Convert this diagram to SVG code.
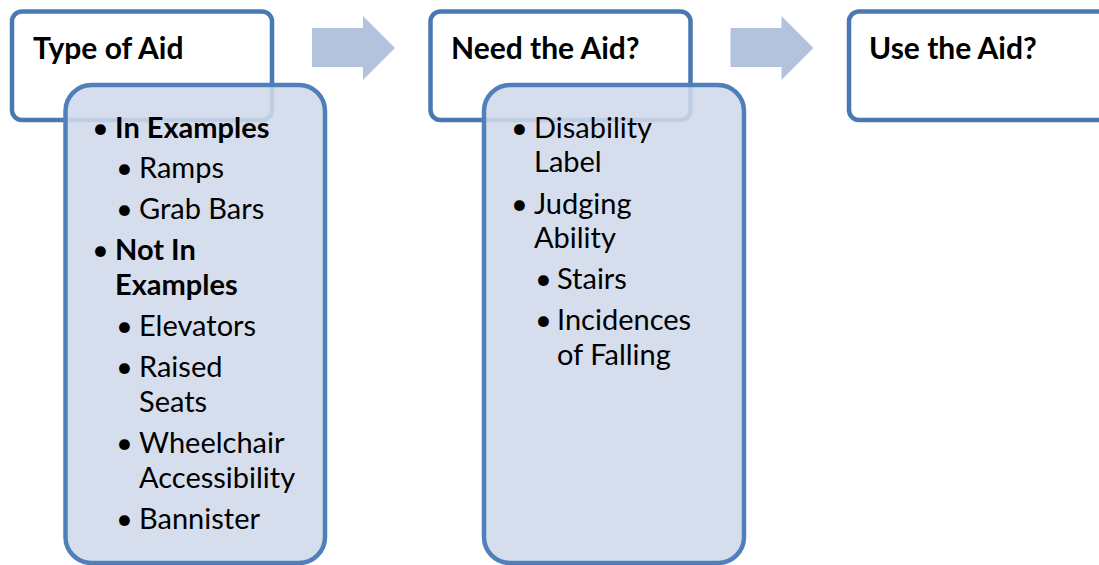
<svg xmlns="http://www.w3.org/2000/svg" width="1099" height="565" viewBox="0 0 1099 565">
<style>
.hdr{fill:#ffffff;stroke:#4a78b0;stroke-width:4.5}
.lst{fill:#d0d9ea;fill-opacity:0.88;stroke:#4f80bc;stroke-width:4.5}
.arr{fill:#b3c3dd}
text{font-family:Lato,"Open Sans","Liberation Sans",sans-serif;fill:#000}
.h{font-size:30px;font-weight:bold}
.t{font-size:29px}
.b{font-weight:bold}
</style>
<g id="connectors">
<polygon class="arr" points="312,28 363,28 363,16 395,48 363,80 363,67 312,67"/>
<polygon class="arr" points="730.5,28 781.5,28 781.5,16 813.5,48 781.5,80 781.5,67 730.5,67"/>
</g>
<g id="node-type">
<rect class="hdr" x="12" y="11.5" width="260" height="108.5" rx="10"/>
<text class="h" x="33" y="58.5">Type of Aid</text>
</g>
<g id="node-type-list">
<rect class="lst" x="65.5" y="85" width="259.5" height="478" rx="26"/>
<g class="t">
<text x="92" y="137.7">•</text><text class="b" x="115" y="137.7">In Examples</text>
<text x="116" y="177.7">•</text><text x="139" y="177.7">Ramps</text>
<text x="116" y="218.7">•</text><text x="139" y="218.7">Grab Bars</text>
<text x="92" y="259.7">•</text><text class="b" x="115" y="259.7">Not In</text>
<text class="b" x="115" y="294.7">Examples</text>
<text x="116" y="335.7">•</text><text x="139" y="335.7">Elevators</text>
<text x="116" y="376.7">•</text><text x="139" y="376.7">Raised</text>
<text x="139" y="411.7">Seats</text>
<text x="116" y="452.7">•</text><text x="139" y="452.7">Wheelchair</text>
<text x="139" y="487.7">Accessibility</text>
<text x="116" y="528.7">•</text><text x="139" y="528.7">Bannister</text>
</g>
</g>
<g id="node-need">
<rect class="hdr" x="430.5" y="11.5" width="260" height="108.5" rx="10"/>
<text class="h" x="451" y="58.5">Need the Aid?</text>
</g>
<g id="node-need-list">
<rect class="lst" x="484" y="85" width="260" height="478" rx="26"/>
<g class="t">
<text x="511" y="137.7">•</text><text x="534" y="137.7">Disability</text>
<text x="534" y="171.7">Label</text>
<text x="511" y="213.7">•</text><text x="534" y="213.7">Judging</text>
<text x="534" y="247.7">Ability</text>
<text x="535" y="288.7">•</text><text x="557" y="288.7">Stairs</text>
<text x="535" y="329.7">•</text><text x="557" y="329.7">Incidences</text>
<text x="557" y="364.7">of Falling</text>
</g>
</g>
<g id="node-use">
<rect class="hdr" x="849" y="11.5" width="260" height="108.5" rx="10"/>
<text class="h" x="869" y="58.5">Use the Aid?</text>
</g>
</svg>
